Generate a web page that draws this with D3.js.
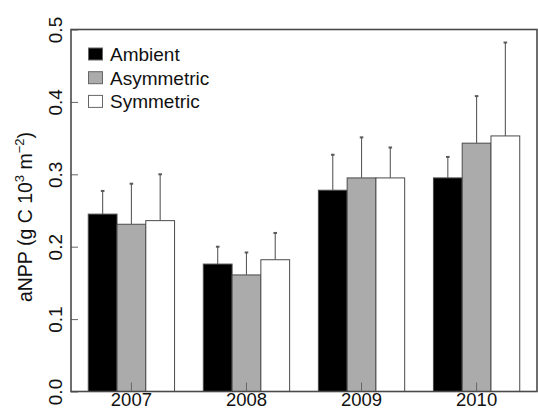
<!DOCTYPE html>
<html>
<head>
<meta charset="utf-8">
<script src="https://cdn.jsdelivr.net/npm/d3@7"></script>
<style>
  html, body { margin: 0; padding: 0; background: #fff; }
  svg { display: block; font-family: "Liberation Sans", Arial, Helvetica, sans-serif; }
</style>
</head>
<body>
<svg id="chart" width="538" height="410"></svg>
<script>
// Above-ground net primary production by year and warming treatment
const years = ["2007", "2008", "2009", "2010"];
const treatments = ["Ambient", "Asymmetric", "Symmetric"];
const ambient    = [0.245, 0.176, 0.278, 0.295];
const asymmetric = [0.231, 0.161, 0.295, 0.343];
const symmetric  = [0.236, 0.182, 0.295, 0.353];
// upper end of each error bar
const ambientErr    = [0.277, 0.200, 0.327, 0.324];
const asymmetricErr = [0.287, 0.192, 0.351, 0.408];
const symmetricErr  = [0.300, 0.219, 0.337, 0.482];
const yTicks = [0.0, 0.1, 0.2, 0.3, 0.4, 0.5];

const fills = ["#000000", "#ababab", "#ffffff"];
const means = [ambient, asymmetric, symmetric];
const errs = [ambientErr, asymmetricErr, symmetricErr];

const rows = [];
years.forEach((yr, i) => {
  treatments.forEach((t, j) => {
    rows.push({ year: yr, treatment: t, value: means[j][i], upper: errs[j][i], fill: fills[j] });
  });
});

const svg = d3.select("#chart");
const plotLeft = 71, plotRight = 537, plotTop = 29.5, plotBottom = 391.5;

const x0 = d3.scaleBand().domain(years).range([plotLeft, plotRight])
  .paddingInner(0.25).paddingOuter(0.15);
const x1 = d3.scaleBand().domain(treatments).range([0, x0.bandwidth()]).padding(0);
const y = d3.scaleLinear().domain([0, 0.5]).range([plotBottom, plotTop]);

// bars
svg.append("g").selectAll("rect").data(rows).join("rect")
  .attr("x", d => x0(d.year) + x1(d.treatment))
  .attr("y", d => y(d.value))
  .attr("width", x1.bandwidth())
  .attr("height", d => y(0) - y(d.value))
  .attr("fill", d => d.fill)
  .attr("stroke", "#4a4a4a")
  .attr("stroke-width", 1);

// upper error bars
const cx = d => x0(d.year) + x1(d.treatment) + x1.bandwidth() / 2;
const eb = svg.append("g").attr("stroke", "#5a5a5a").attr("stroke-width", 1.1);
eb.selectAll("line.v").data(rows).join("line").attr("class", "v")
  .attr("x1", cx).attr("x2", cx)
  .attr("y1", d => y(d.value))
  .attr("y2", d => y(d.upper));
eb.selectAll("line.c").data(rows).join("line").attr("class", "c")
  .attr("x1", d => cx(d) - 1.8)
  .attr("x2", d => cx(d) + 1.8)
  .attr("y1", d => y(d.upper))
  .attr("y2", d => y(d.upper))
  .attr("stroke-width", 2);

// y axis with inward ticks and rotated labels
const yAxis = svg.append("g").attr("transform", `translate(${plotLeft},0)`)
  .call(d3.axisLeft(y).tickValues(yTicks).tickFormat(d3.format(".1f"))
    .tickSizeInner(-7).tickSizeOuter(0));
yAxis.select(".domain").remove();
yAxis.selectAll(".tick line").attr("stroke", "#666").attr("stroke-width", 1);
yAxis.selectAll(".tick text")
  .attr("transform", "rotate(-90)")
  .attr("x", 0).attr("y", -9).attr("dy", 0)
  .attr("text-anchor", "middle")
  .attr("font-size", 19).attr("fill", "#111")
  .attr("font-family", "Liberation Sans, Arial, sans-serif");

// x axis: inward ticks at group centres, year labels below
const xAxis = svg.append("g").attr("transform", `translate(0,${plotBottom})`)
  .call(d3.axisBottom(x0).tickSizeInner(-9).tickSizeOuter(0).tickPadding(0));
xAxis.select(".domain").remove();
xAxis.selectAll(".tick line").attr("stroke", "#666").attr("stroke-width", 1);
xAxis.selectAll(".tick text")
  .attr("y", 14.5).attr("dy", 0)
  .attr("font-size", 18.5).attr("fill", "#111")
  .attr("font-family", "Liberation Sans, Arial, sans-serif");

// plot frame
svg.append("rect")
  .attr("x", plotLeft).attr("y", plotTop)
  .attr("width", plotRight - plotLeft).attr("height", plotBottom - plotTop)
  .attr("fill", "none").attr("stroke", "#4a4a4a").attr("stroke-width", 1.6);

// y axis title
const title = svg.append("text")
  .attr("transform", "translate(32,217) rotate(-90)")
  .attr("text-anchor", "middle")
  .attr("font-size", 19.5).attr("fill", "#111");
title.append("tspan").text("aNPP (g C 10");
title.append("tspan").text("3").attr("font-size", 13).attr("dy", -8);
title.append("tspan").text(" m").attr("dy", 8);
title.append("tspan").text("\u22122").attr("font-size", 13).attr("dy", -8);
title.append("tspan").text(")").attr("dy", 8);

// legend
const legend = svg.append("g");
treatments.forEach((t, j) => {
  const ly = 54 + j * 23.7;
  legend.append("rect")
    .attr("x", 88.5).attr("y", ly - 6)
    .attr("width", 14).attr("height", 12)
    .attr("fill", fills[j]).attr("stroke", "#666").attr("stroke-width", 1);
  legend.append("text")
    .attr("x", 110).attr("y", ly + 7)
    .attr("font-size", 19).attr("fill", "#111")
    .text(t);
});
</script>
</body>
</html>
